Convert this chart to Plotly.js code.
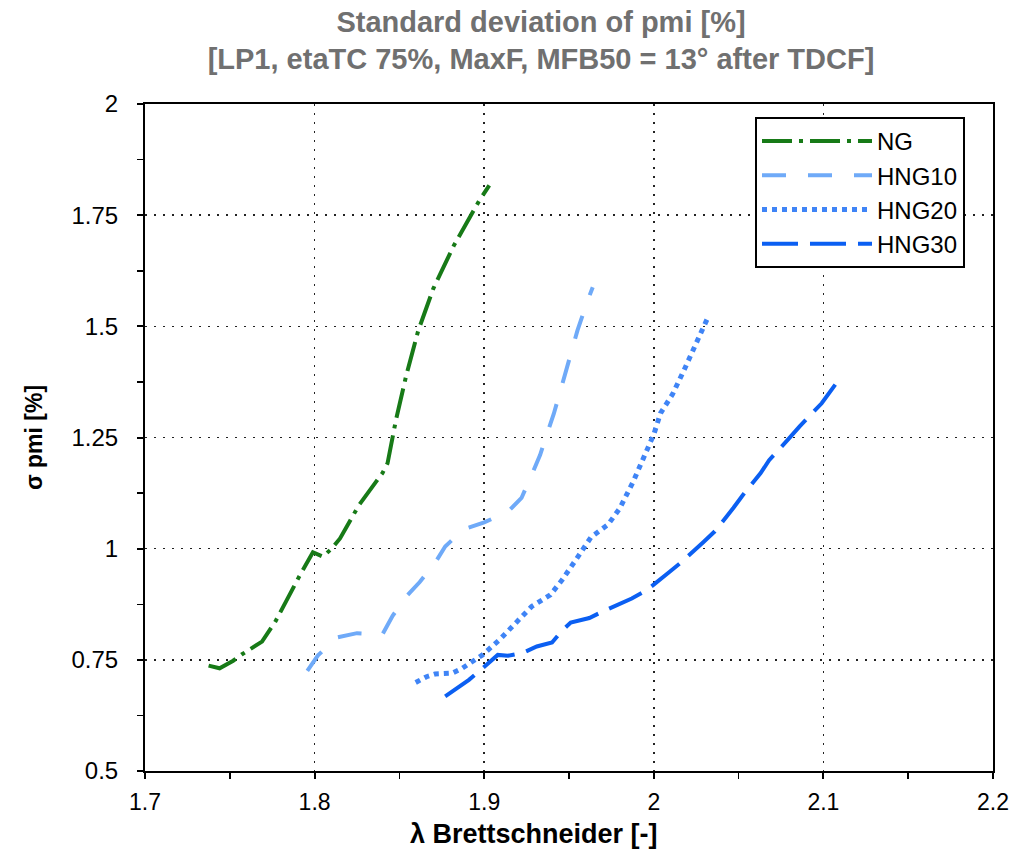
<!DOCTYPE html>
<html>
<head>
<meta charset="utf-8">
<script src="https://cdn.plot.ly/plotly-3.0.1.min.js"></script>
<style>html,body{margin:0;padding:0;background:#fff;}#chart{width:1019px;height:853px;}</style>
</head>
<body>
<div id="chart"></div>
<script>
// Series names
const seriesNames = ["NG", "HNG10", "HNG20", "HNG30"];

// NG
const ngX = [1.7375,1.744,1.752,1.757,1.769,1.777,1.791,1.799,1.805,1.810,1.815,1.826,1.840,1.843,1.848,1.854,1.861,1.870,1.882,1.897,1.903];
const ngY = [0.737,0.731,0.748,0.762,0.791,0.837,0.938,0.992,0.982,1.0,1.023,1.097,1.170,1.192,1.290,1.389,1.489,1.585,1.681,1.782,1.817];

// HNG10
const hng10X = [1.7957,1.802,1.813,1.825,1.840,1.846,1.854,1.862,1.871,1.877,1.888,1.9,1.914,1.922,1.928,1.933,1.937,1.941,1.945,1.952,1.955,1.961,1.964];
const hng10Y = [0.725,0.760,0.800,0.810,0.807,0.849,0.892,0.925,0.968,1.005,1.044,1.059,1.083,1.114,1.166,1.211,1.258,1.303,1.356,1.453,1.491,1.558,1.588];

// HNG20
const hng20X = [1.8596,1.866,1.871,1.881,1.887,1.893,1.899,1.909,1.918,1.928,1.939,1.946,1.956,1.963,1.973,1.980,1.988,1.994,2.0,2.004,2.011,2.018,2.023,2.028,2.032];
const hng20Y = [0.699,0.712,0.718,0.720,0.731,0.746,0.761,0.795,0.832,0.870,0.896,0.930,0.986,1.026,1.054,1.091,1.152,1.208,1.257,1.305,1.347,1.403,1.444,1.482,1.521];

// HNG30
const hng30X = [1.877,1.891,1.899,1.908,1.914,1.923,1.931,1.940,1.946,1.951,1.962,1.970,1.987,1.996,2.009,2.016,2.029,2.036,2.047,2.052,2.063,2.068,2.080,2.086,2.099,2.104,2.107];
const hng30Y = [0.668,0.705,0.731,0.761,0.759,0.766,0.780,0.789,0.816,0.834,0.844,0.859,0.888,0.907,0.947,0.969,1.014,1.039,1.092,1.118,1.170,1.199,1.249,1.275,1.327,1.352,1.369];

// Axis tick values / labels
const xTickVals = [1.7,1.8,1.9,2.0,2.1,2.2];
const xTickText = ["1.7","1.8","1.9","2","2.1","2.2"];
const yTickVals = [0.5,0.75,1.0,1.25,1.5,1.75,2.0];
const yTickText = ["0.5","0.75","1","1.25","1.5","1.75","2"];

const chartTitle = "Standard deviation of pmi [%]<br>[LP1, etaTC 75%, MaxF, MFB50 = 13° after TDCF]";
const xTitle = "λ Brettschneider [-]";
const yTitle = "σ pmi [%]";

const traces = [
  {x: ngX, y: ngY, name: seriesNames[0], legendgroup: "a", mode: "lines",
   line: {color: "#177a17", width: 4, dash: "30px,7px,4px,7px"}},
  {x: hng10X, y: hng10Y, name: seriesNames[1], legendgroup: "b", mode: "lines",
   line: {color: "#6faaf8", width: 4, dash: "24px,22px"}},
  {x: hng20X, y: hng20Y, name: seriesNames[2], legendgroup: "c", mode: "lines",
   line: {color: "#3f84f6", width: 5, dash: "5px,5px"}},
  {x: hng30X, y: hng30Y, name: seriesNames[3], legendgroup: "d", mode: "lines",
   line: {color: "#0b5ff2", width: 4, dash: "36px,12px"}}
];

const FONT = "Liberation Sans, Arial, sans-serif";

const layout = {
  width: 1019, height: 853,
  paper_bgcolor: "#fff", plot_bgcolor: "#fff",
  margin: {l: 145, r: 26, t: 104, b: 82},
  title: {
    text: chartTitle,
    x: 541/1019, xanchor: "center", xref: "container",
    y: 0.963, yanchor: "top", yref: "container",
    font: {family: FONT, size: 29, color: "#707070", weight: "bold"}
  },
  xaxis: {
    range: [1.7, 2.2], tickvals: xTickVals, ticktext: xTickText,
    showgrid: true, gridcolor: "#222", griddash: "2px,7px", gridwidth: 1.5,
    zeroline: false, showline: true, linecolor: "#000", linewidth: 2, mirror: true,
    ticks: "outside", ticklen: 6, tickwidth: 2, tickcolor: "#000",
    minor: {dtick: 0.05, ticks: "outside", ticklen: 6, tickwidth: 1.5, tickcolor: "#000", showgrid: false},
    tickfont: {family: FONT, size: 23, color: "#000"}, ticklabelstandoff: 3
  },
  yaxis: {
    range: [0.5, 2.0], tickvals: yTickVals, ticktext: yTickText,
    showgrid: true, gridcolor: "#222", griddash: "2px,7px", gridwidth: 1.5,
    zeroline: false, showline: true, linecolor: "#000", linewidth: 2, mirror: true,
    ticks: "outside", ticklen: 6, tickwidth: 2, tickcolor: "#000",
    minor: {dtick: 0.125, ticks: "outside", ticklen: 6, tickwidth: 1.5, tickcolor: "#000", showgrid: false},
    tickfont: {family: FONT, size: 24, color: "#000"}, ticklabelstandoff: 14,
    title: {text: yTitle, standoff: 22,
            font: {family: FONT, size: 23, color: "#000", weight: "bold"}}
  },
  xaxis2: {
    overlaying: "x", matches: "x", anchor: "y", side: "bottom", range: [1.7, 2.2],
    tickvals: xTickVals, showticklabels: false, showgrid: false, zeroline: false, showline: false,
    ticks: "inside", ticklen: 6, tickwidth: 2, tickcolor: "#000",
    minor: {dtick: 0.05, ticks: "inside", ticklen: 6, tickwidth: 1.5, tickcolor: "#000", showgrid: false}
  },
  yaxis2: {
    overlaying: "y", matches: "y", anchor: "x", side: "left", range: [0.5, 2.0],
    tickvals: yTickVals, showticklabels: false, showgrid: false, zeroline: false, showline: false,
    ticks: "inside", ticklen: 6, tickwidth: 2, tickcolor: "#000",
    minor: {dtick: 0.125, ticks: "inside", ticklen: 6, tickwidth: 1.5, tickcolor: "#000", showgrid: false}
  },
  annotations: [
    {text: xTitle, xref: "paper", yref: "paper", x: (534-145)/848, y: -(851-771)/667,
     xanchor: "center", yanchor: "bottom", showarrow: false,
     font: {family: FONT, size: 27, color: "#000", weight: "bold"}}
  ],
  legend: {
    x: (755-145)/848, y: 1 - (117-104)/667, xanchor: "left", yanchor: "top",
    bgcolor: "#fff", bordercolor: "#000", borderwidth: 2,
    font: {family: FONT, size: 24, color: "#000"},
    itemwidth: 110, tracegroupgap: 8, traceorder: "normal"
  },
  showlegend: true
};

Plotly.newPlot("chart", traces, layout, {displayModeBar: false, staticPlot: true});
</script>
</body>
</html>
